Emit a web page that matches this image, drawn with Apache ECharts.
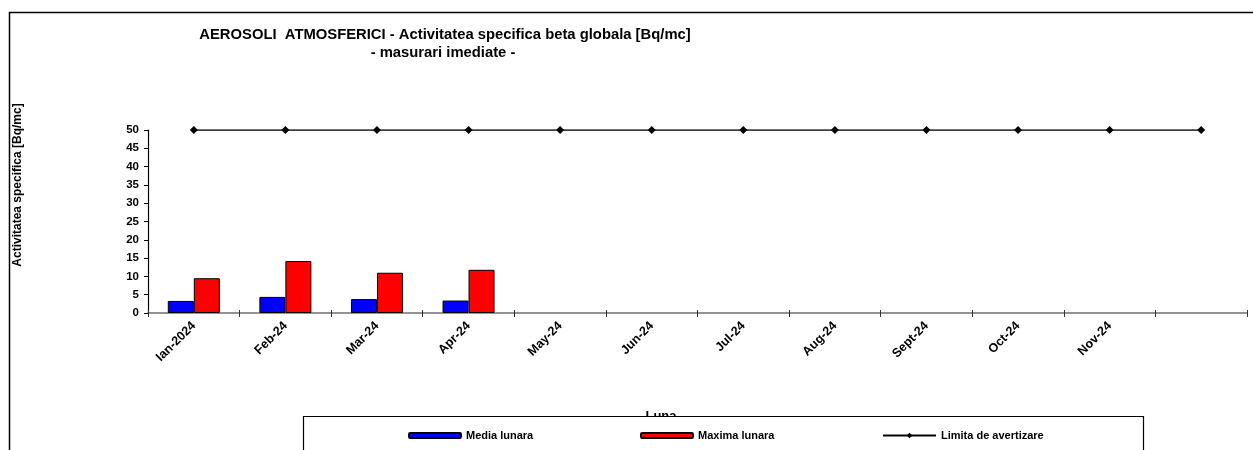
<!DOCTYPE html>
<html>
<head>
<meta charset="utf-8">
<script src="https://cdn.jsdelivr.net/npm/echarts@6/dist/echarts.min.js"></script>
<style>
  html, body { margin: 0; padding: 0; background: #fff; }
  #chart { width: 1253px; height: 450px; }
</style>
</head>
<body>
<div id="chart"></div>
<script>
// Months of the monitoring year (last slot has no label)
const months = ['Ian-2024', 'Feb-24', 'Mar-24', 'Apr-24', 'May-24', 'Jun-24', 'Jul-24', 'Aug-24', 'Sept-24', 'Oct-24', 'Nov-24', ''];
// Monthly mean and maximum beta activity [Bq/mc]
const mediaLunara = [3.3, 4.4, 3.8, 3.4, null, null, null, null, null, null, null, null];
const maximaLunara = [9.5, 14.2, 11.0, 11.8, null, null, null, null, null, null, null, null];
// Warning limit [Bq/mc]
const limitaAvertizare = [50, 50, 50, 50, 50, 50, 50, 50, 50, 50, 50, 50];
const yTicks = [0, 5, 10, 15, 20, 25, 30, 35, 40, 45, 50];

const FONT = '"Liberation Sans", Arial, sans-serif';
const legendText = { fontFamily: FONT, fontWeight: 'bold', fontSize: 11, color: '#000' };

const chart = echarts.init(document.getElementById('chart'), null, { renderer: 'canvas' });

chart.setOption({
  animation: false,
  backgroundColor: '#ffffff',
  textStyle: { fontFamily: FONT },
  grid: { left: 148, right: 6, top: 130, bottom: 137, containLabel: false },
  xAxis: [{
    type: 'category',
    data: months,
    boundaryGap: true,
    axisLine: { lineStyle: { color: '#707070', width: 1.5 } },
    axisTick: { show: true, length: 4, lineStyle: { color: '#333', width: 1 } },
    axisLabel: {
      rotate: 45, margin: 11, interval: 0,
      fontFamily: FONT, fontWeight: 'bold', fontSize: 12.5, color: '#000'
    },
    splitLine: { show: false }
  }, {
    type: 'category',
    data: months,
    position: 'bottom',
    boundaryGap: true,
    axisLine: { show: false },
    axisTick: { show: true, inside: true, length: 3, lineStyle: { color: '#333', width: 1 } },
    axisLabel: { show: false },
    splitLine: { show: false }
  }],
  yAxis: {
    type: 'value',
    min: yTicks[0],
    max: yTicks[yTicks.length - 1],
    interval: 5,
    axisLine: { show: true, lineStyle: { color: '#000', width: 1.2 } },
    axisTick: { show: true, length: 4, lineStyle: { color: '#000' } },
    axisLabel: { margin: 9, fontFamily: FONT, fontWeight: 'bold', fontSize: 11.5, color: '#000' },
    splitLine: { show: false }
  },
  legend: [
    {
      data: ['Media lunara'], left: 408, top: 430, padding: 0,
      itemWidth: 52, itemHeight: 5, itemGap: 0, textStyle: legendText
    },
    {
      data: ['Maxima lunara'], left: 640, top: 430, padding: 0,
      itemWidth: 52, itemHeight: 5, itemGap: 0, textStyle: legendText
    },
    {
      data: ['Limita de avertizare'], left: 882, top: 430, padding: 0,
      itemWidth: 53, itemHeight: 7, itemGap: 0, textStyle: legendText
    }
  ],
  series: [
    {
      name: 'Media lunara',
      type: 'bar',
      data: mediaLunara,
      barWidth: 26,
      barGap: '0%',
      itemStyle: { color: '#0000ff', borderColor: '#000', borderWidth: 1 }
    },
    {
      name: 'Maxima lunara',
      type: 'bar',
      data: maximaLunara,
      barWidth: 26,
      barGap: '0%',
      itemStyle: { color: '#ff0000', borderColor: '#000', borderWidth: 1 }
    },
    {
      name: 'Limita de avertizare',
      type: 'line',
      data: limitaAvertizare,
      symbol: 'diamond',
      symbolSize: 8,
      showAllSymbol: true,
      lineStyle: { color: '#000', width: 1.5 },
      itemStyle: { color: '#000' }
    }
  ],
  graphic: [
    // outer chart frame
    {
      type: 'rect', z: 1, silent: true,
      shape: { x: 9.5, y: 12.5, width: 1300, height: 500 },
      style: { fill: null, stroke: '#000', lineWidth: 1.5 }
    },
    // titles
    {
      type: 'text', z: 5, x: 445, y: 35,
      style: {
        text: 'AEROSOLI  ATMOSFERICI - Activitatea specifica beta globala [Bq/mc]',
        font: 'bold 14.8px ' + FONT, fill: '#000',
        textAlign: 'center', textVerticalAlign: 'middle'
      }
    },
    {
      type: 'text', z: 5, x: 443, y: 53,
      style: {
        text: '- masurari imediate -',
        font: 'bold 14.8px ' + FONT, fill: '#000',
        textAlign: 'center', textVerticalAlign: 'middle'
      }
    },
    // value axis title
    {
      type: 'text', z: 5, x: 18, y: 185, rotation: Math.PI / 2,
      style: {
        text: 'Activitatea specifica [Bq/mc]',
        font: 'bold 12px ' + FONT, fill: '#000',
        textAlign: 'center', textVerticalAlign: 'middle'
      }
    },
    // category axis title, partly covered by the legend box
    {
      type: 'text', z: 2, x: 661, y: 416,
      style: {
        text: 'Luna', font: 'bold 13px ' + FONT, fill: '#000',
        textAlign: 'center', textVerticalAlign: 'middle'
      }
    },
    // legend box
    {
      type: 'rect', z: 3, silent: true,
      shape: { x: 303.5, y: 416.5, width: 840, height: 60 },
      style: { fill: '#fff', stroke: '#000', lineWidth: 1.2 }
    }
  ]
});
</script>
</body>
</html>
